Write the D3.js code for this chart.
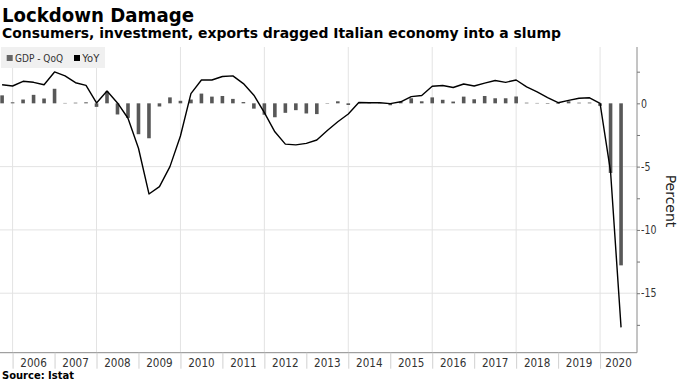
<!DOCTYPE html>
<html><head><meta charset="utf-8">
<script src="https://cdn.jsdelivr.net/npm/d3@7"></script>
<style>
body{margin:0;background:#fff;}
svg{display:block;font-family:"DejaVu Sans","Noto Sans",sans-serif;}
</style>
</head><body>
<svg id="chart" width="680" height="382"></svg>
<script>
// ---------- data ----------
const quarters = ["2005Q3","2005Q4",
  "2006Q1","2006Q2","2006Q3","2006Q4","2007Q1","2007Q2","2007Q3","2007Q4",
  "2008Q1","2008Q2","2008Q3","2008Q4","2009Q1","2009Q2","2009Q3","2009Q4",
  "2010Q1","2010Q2","2010Q3","2010Q4","2011Q1","2011Q2","2011Q3","2011Q4",
  "2012Q1","2012Q2","2012Q3","2012Q4","2013Q1","2013Q2","2013Q3","2013Q4",
  "2014Q1","2014Q2","2014Q3","2014Q4","2015Q1","2015Q2","2015Q3","2015Q4",
  "2016Q1","2016Q2","2016Q3","2016Q4","2017Q1","2017Q2","2017Q3","2017Q4",
  "2018Q1","2018Q2","2018Q3","2018Q4","2019Q1","2019Q2","2019Q3","2019Q4",
  "2020Q1","2020Q2"];
const gdpQoQ = [0.63, 0.08,
  0.3, 0.67, 0.38, 1.15,
  0.03, 0.05, 0.08, -0.28,
  0.93, -0.88, -1.15, -2.44,
  -2.76, -0.25, 0.47, 0.2,
  0.3, 0.77, 0.53, 0.58,
  0.35, 0.1, -0.42, -0.9,
  -1.1, -0.75, -0.54, -0.8,
  -0.85, -0.03, 0.16, -0.13,
  0.02, 0.04, 0.04, -0.15,
  0.12, 0.4, 0.16, 0.47,
  0.28, 0.14, 0.53, 0.32,
  0.58, 0.4, 0.4, 0.54,
  0.05, 0.03, -0.04, -0.05,
  0.16, 0.05, 0.06, -0.2,
  -5.5, -12.8];
const gdpYoY = [1.47, 1.37,
  1.74, 1.66, 1.47, 2.48,
  2.17, 1.63, 1.42, 0.03,
  0.97, 0.03, -1.18, -3.55,
  -7.16, -6.58, -5.0, -2.58,
  0.77, 1.84, 1.84, 2.12,
  2.17, 1.56, 0.64, -0.74,
  -2.25, -3.22, -3.28, -3.16,
  -2.9, -2.14, -1.46, -0.84,
  0.06, 0.05, 0.05, -0.02,
  0.12, 0.53, 0.62, 1.35,
  1.41, 1.25, 1.53, 1.37,
  1.6, 1.8, 1.66, 1.84,
  1.3, 0.9, 0.46, 0.05,
  0.23, 0.4, 0.44, 0.0,
  -5.4, -17.7];
const yearLabels = ["2006","2007","2008","2009","2010","2011","2012","2013","2014","2015","2016","2017","2018","2019","2020"];
const majorTicks = [0, -5, -10, -15];
const minorTicks = [2.5, -2.5, -7.5, -12.5, -17.5];
const gridTicks = [-5, -10, -15];
const legendItems = ["GDP - QoQ", "YoY"];

// ---------- layout ----------
const svg = d3.select("#chart");
const plot = {left: 0, right: 637, top: 47, bottom: 352.7};
const x = d3.scaleLinear().domain([2005.7, 2020.88]).range([plot.left, plot.right]);
const y = d3.scaleLinear().domain([4.45, -19.7]).range([plot.top, plot.bottom]);
const qTime = q => +q.slice(0,4) + (+q.slice(5)) / 4;   // quarter end
const data = quarters.map((q,i) => ({t: qTime(q), qoq: gdpQoQ[i], yoy: gdpYoY[i]}));

function fitWidth(sel, target){
  sel.each(function(){
    this.setAttribute("textLength", target); this.setAttribute("lengthAdjust","spacingAndGlyphs");
  });
}
function condense(sel, f){
  sel.each(function(){
    const w = this.getComputedTextLength();
    this.setAttribute("textLength", w*f); this.setAttribute("lengthAdjust","spacingAndGlyphs");
  });
}

// ---------- gridlines ----------
const evenYears = yearLabels.map(Number).filter(v => v % 2 === 0);
svg.append("g").selectAll("line").data(evenYears).join("line")
  .attr("x1", d => x(d)).attr("x2", d => x(d))
  .attr("y1", plot.top).attr("y2", plot.bottom)
  .attr("stroke", "#e3e3e3").attr("stroke-width", 1);
svg.append("g").selectAll("line").data(gridTicks).join("line")
  .attr("x1", plot.left).attr("x2", plot.right)
  .attr("y1", d => y(d)).attr("y2", d => y(d))
  .attr("stroke", "#e3e3e3").attr("stroke-width", 1);

// ---------- bars ----------
const bw = 3.6;
svg.append("g").selectAll("rect").data(data).join("rect")
  .attr("x", d => x(d.t) - bw/2).attr("width", bw)
  .attr("y", d => y(Math.max(0, d.qoq)))
  .attr("height", d => Math.abs(y(d.qoq) - y(0)))
  .attr("fill", "#585858");

// ---------- line ----------
svg.append("path").datum(data)
  .attr("fill", "none").attr("stroke", "#000").attr("stroke-width", 1.4)
  .attr("stroke-linejoin", "round")
  .attr("d", d3.line().x(d => x(d.t)).y(d => y(d.yoy)));

// ---------- right axis ----------
const yAxisG = svg.append("g").attr("transform", `translate(${plot.right},0)`)
  .call(d3.axisRight(y).tickValues(majorTicks).tickSize(3).tickPadding(1).tickFormat(d => String(d)));
yAxisG.select(".domain").attr("stroke", "#8a8a8a").attr("d", `M0,${plot.top}V${plot.bottom}`);
yAxisG.selectAll(".tick line").attr("stroke", "#777");
yAxisG.selectAll(".tick text").attr("font-size", 11.5).attr("fill", "#333")
  .attr("font-family", "DejaVu Sans, sans-serif").call(condense, 0.82);
const yMinor = svg.append("g").attr("transform", `translate(${plot.right},0)`)
  .call(d3.axisRight(y).tickValues(minorTicks).tickSize(3).tickFormat(""));
yMinor.select(".domain").remove();
yMinor.selectAll(".tick line").attr("stroke", "#777");

// ---------- bottom axis ----------
const bounds = yearLabels.map(Number);
const xAxisG = svg.append("g").attr("transform", `translate(0,${plot.bottom})`)
  .call(d3.axisBottom(x).tickValues(bounds).tickSize(16).tickFormat(""));
xAxisG.select(".domain").attr("stroke", "#8a8a8a").attr("d", `M${plot.left},0H${plot.right}`);
xAxisG.selectAll(".tick line").attr("stroke", "#d0d0d0");
svg.append("g").selectAll("text").data(yearLabels).join("text")
  .attr("x", d => (x(+d) + Math.min(x(+d + 1), plot.right)) / 2)
  .attr("y", 366.5).attr("text-anchor", "middle")
  .attr("font-size", 13).attr("fill", "#333").text(d => d)
  .call(condense, 0.8);

// ---------- axis title ----------
svg.append("text").attr("transform", "translate(665.5,201) rotate(90)")
  .attr("text-anchor", "middle").attr("font-size", 14).attr("fill", "#222").text("Percent");

// ---------- titles ----------
svg.append("text").attr("x", 2).attr("y", 21.7).attr("font-size", 20).attr("font-weight", "bold")
  .attr("fill", "#000").text("Lockdown Damage").call(fitWidth, 192);
svg.append("text").attr("x", 2).attr("y", 37.5).attr("font-size", 13.6).attr("font-weight", "bold")
  .attr("fill", "#000").text("Consumers, investment, exports dragged Italian economy into a slump").call(fitWidth, 559);
svg.append("text").attr("x", 2).attr("y", 378.5).attr("font-size", 10).attr("font-weight", "bold")
  .attr("fill", "#000").text("Source: Istat").call(fitWidth, 72);

// ---------- legend ----------
const lg = svg.append("g");
lg.append("rect").attr("x", 1).attr("y", 47).attr("width", 104).attr("height", 21).attr("fill", "#f0f0f0");
const legendColors = ["#666", "#000"];
const legendX = [6.7, 74];
const legendW = [48, 17];
legendItems.forEach((name, i) => {
  lg.append("rect").attr("x", legendX[i]).attr("y", 55).attr("width", 6).attr("height", 6).attr("fill", legendColors[i]);
  lg.append("text").attr("x", legendX[i] + 8.3).attr("y", 61.7).attr("font-size", 10.5).attr("fill", "#333")
    .text(name).call(fitWidth, legendW[i]);
});
</script>
</body></html>
